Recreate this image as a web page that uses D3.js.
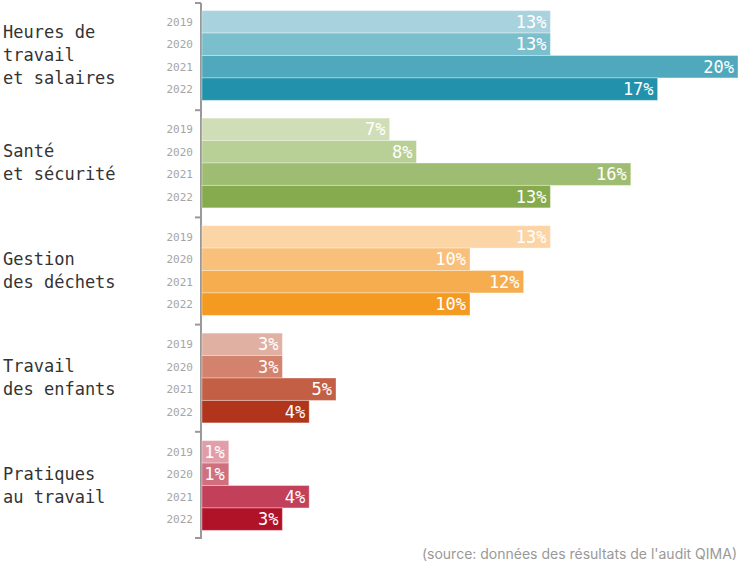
<!DOCTYPE html>
<html>
<head>
<meta charset="utf-8">
<script src="https://cdn.jsdelivr.net/npm/d3@7"></script>
<style>
  body { margin: 0; background: #fff; }
  .cat { font-family: "DejaVu Sans Mono", monospace; font-size: 17px; fill: #333; }
  .year { font-family: "DejaVu Sans Mono", monospace; font-size: 11px; fill: #a5a5a5; }
  .val { font-family: "DejaVu Sans Mono", monospace; font-size: 17px; fill: #fff; }
  .source { font-family: "Inter", sans-serif; font-size: 14px; fill: #999; }
</style>
</head>
<body>
<div id="chart"></div>
<script>
// data
const categories = [
  ["Heures de", "travail", "et salaires"],
  ["Santé", "et sécurité"],
  ["Gestion", "des déchets"],
  ["Travail", "des enfants"],
  ["Pratiques", "au travail"],
];
const years = ["2019", "2020", "2021", "2022"];
const values = [
  [13, 13, 20, 17],
  [7, 8, 16, 13],
  [13, 10, 12, 10],
  [3, 3, 5, 4],
  [1, 1, 4, 3],
];
const colors = [
  ["#a8d3de", "#7bbfcd", "#4fa8bb", "#2291ab"],
  ["#d0deb8", "#b8cf95", "#9fbd72", "#86ab4e"],
  ["#fcd5a6", "#f8c07a", "#f6ad4f", "#f49a21"],
  ["#e0b0a2", "#d2826d", "#c35f45", "#b0351a"],
  ["#e29ea8", "#d0707f", "#c2405a", "#b01228"],
];

const width = 739, height = 565;
const svg = d3.select("#chart").append("svg")
  .attr("width", width).attr("height", height);

// scales
const x = d3.scaleLinear().domain([0, 20]).range([202, 738]);
const yGroup = d3.scaleBand()
  .domain(d3.range(categories.length))
  .range([2, 539])
  .paddingInner(0.165)
  .paddingOuter(0.08);
const yBar = d3.scaleBand().domain(years).range([0, yGroup.bandwidth()]);

// axis line + ticks at group boundaries
svg.append("line")
  .attr("x1", 201).attr("x2", 201)
  .attr("y1", 3).attr("y2", 539)
  .attr("stroke", "#999").attr("stroke-width", 2);
svg.selectAll(".tick").data(d3.range(categories.length + 1)).enter()
  .append("line")
  .attr("x1", 195).attr("x2", 201)
  .attr("y1", i => Math.min(538, 3 + i * (536 / categories.length)))
  .attr("y2", i => Math.min(538, 3 + i * (536 / categories.length)))
  .attr("stroke", "#999").attr("stroke-width", 2);

const groups = svg.selectAll(".group").data(categories).enter()
  .append("g")
  .attr("transform", (d, i) => `translate(0, ${yGroup(i)})`);

// bars
groups.each(function (cat, gi) {
  const g = d3.select(this);
  const rows = years.map((yr, k) => ({ yr, v: values[gi][k], c: colors[gi][k] }));

  g.selectAll("rect").data(rows).enter()
    .append("rect")
    .attr("x", x(0))
    .attr("y", d => yBar(d.yr))
    .attr("width", d => x(d.v) - x(0))
    .attr("height", yBar.bandwidth())
    .attr("fill", d => d.c)
    .attr("stroke", "#fff").attr("stroke-opacity", 0.35).attr("stroke-width", 1);

  g.selectAll(".val").data(rows).enter()
    .append("text")
    .attr("class", "val")
    .attr("x", d => x(d.v) - 4)
    .attr("y", d => yBar(d.yr) + yBar.bandwidth() / 2)
    .attr("dy", "0.36em")
    .attr("text-anchor", "end")
    .text(d => d.v + "%");

  g.selectAll(".year").data(rows).enter()
    .append("text")
    .attr("class", "year")
    .attr("x", 193)
    .attr("y", d => yBar(d.yr) + yBar.bandwidth() / 2)
    .attr("dy", "0.36em")
    .attr("text-anchor", "end")
    .text(d => d.yr);

  // category label
  const lh = 23;
  const cy = yGroup.bandwidth() / 2 - (cat.length - 1) * lh / 2;
  g.append("text").attr("class", "cat")
    .selectAll("tspan").data(cat).enter()
    .append("tspan")
    .attr("x", 3)
    .attr("y", (d, i) => cy + i * lh)
    .attr("dy", "0.35em")
    .text(d => d);
});

svg.append("text")
  .attr("class", "source")
  .attr("x", 737).attr("y", 559)
  .attr("text-anchor", "end")
  .text("(source: données des résultats de l'audit QIMA)");
</script>
</body>
</html>
